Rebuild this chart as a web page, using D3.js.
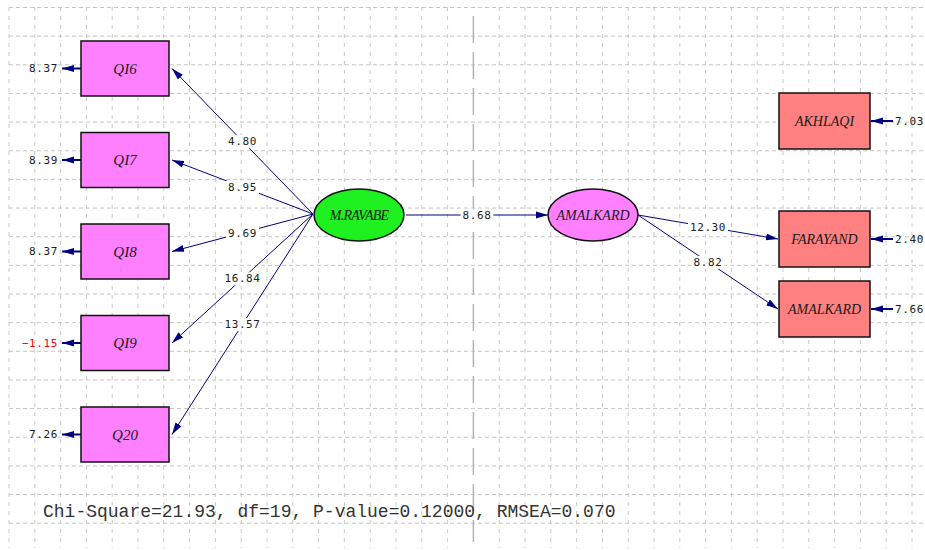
<!DOCTYPE html>
<html>
<head>
<meta charset="utf-8">
<script src="https://cdn.jsdelivr.net/npm/d3@7"></script>
<style>
  body { margin: 0; background: #fff; }
  svg { display: block; }
</style>
</head>
<body>
<div class="svg-container"></div>
<script>
// ---- data ----
var leftIndicators = ["QI6", "QI7", "QI8", "QI9", "Q20"];
var leftLoadings = [4.80, 8.95, 9.69, 16.84, 13.57];
var leftErrors = [8.37, 8.39, 8.37, -1.15, 7.26];

var rightIndicators = ["AKHLAQI", "FARAYAND", "AMALKARD"];
var rightLoadings = [null, 12.30, 8.82];
var rightErrors = [7.03, 2.40, 7.66];

var latentNames = ["M.RAVABE", "AMALKARD"];
var structuralPaths = [8.68];

var fitNames = ["Chi-Square", "df", "P-value", "RMSEA"];
var fitValues = ["21.93", "19", "0.12000", "0.070"];

// ---- layout ----
var width = 925, height = 550;
var fmt = d3.format(".2f");
var pathColor = "#00007f";

var svg = d3.select(".svg-container").append("svg")
  .attr("width", width)
  .attr("height", height);

var defs = svg.append("defs");
defs.append("marker")
  .attr("id", "arrow")
  .attr("markerUnits", "userSpaceOnUse")
  .attr("viewBox", "0 -4 12 8")
  .attr("refX", 12).attr("refY", 0)
  .attr("markerWidth", 12).attr("markerHeight", 8)
  .attr("orient", "auto")
  .append("path")
  .attr("d", "M0,-3.5L12,0L0,3.5Z")
  .attr("fill", pathColor);

// background grid
var gx = d3.scaleLinear().domain([0, 1]).range([9, 34.8]);
var gy = d3.scaleLinear().domain([0, 1]).range([7.5, 36.15]);
var grid = svg.append("g").attr("class", "grid");

grid.selectAll("line.h")
  .data(d3.range(0, 19))
  .enter().append("line")
  .attr("class", "h")
  .attr("x1", 9).attr("x2", width)
  .attr("y1", function(d) { return gy(d); })
  .attr("y2", function(d) { return gy(d); })
  .attr("stroke", "#c4c4c4")
  .attr("stroke-dasharray", "4,3");

grid.selectAll("line.v")
  .data(d3.range(0, 36).filter(function(d) { return d !== 18; }))
  .enter().append("line")
  .attr("class", "v")
  .attr("x1", function(d) { return gx(d); })
  .attr("x2", function(d) { return gx(d); })
  .attr("y1", 7).attr("y2", height - 2)
  .attr("stroke", "#c8c8c8")
  .attr("stroke-dasharray", "4,5");

// the darker centre line
grid.append("line")
  .attr("x1", gx(18)).attr("x2", gx(18))
  .attr("y1", 16).attr("y2", height - 8)
  .attr("stroke", "#b4b4b4")
  .attr("stroke-width", 1.5)
  .attr("stroke-dasharray", "27,9");

// positions of nodes
var leftY = d3.scalePoint().domain(leftIndicators).range([68.5, 434.5]);
var rightY = d3.scaleOrdinal().domain(rightIndicators).range([121, 239, 309]);
var latentX = d3.scaleOrdinal().domain(latentNames).range([359, 593]);
var latentCy = 215, latentRx = 45, latentRy = 26;

var leftBox = { x: 81, w: 88, h: 55 };
var rightBox = { x: 779, w: 91, h: 56 };

var links = svg.append("g").attr("class", "links");
var labels = svg.append("g").attr("class", "labels");

function pathLabel(x, y, text) {
  var g = labels.append("g");
  var t = g.append("text")
    .attr("x", x).attr("y", y)
    .attr("dy", "0.35em")
    .attr("text-anchor", "middle")
    .attr("font-family", "'DejaVu Sans Mono', monospace")
    .attr("font-size", 11)
    .attr("letter-spacing", 0.6)
    .attr("fill", "#222")
    .text(text);
  var bb = t.node().getBBox();
  g.insert("rect", "text")
    .attr("x", bb.x - 2).attr("y", bb.y)
    .attr("width", bb.width + 4).attr("height", bb.height)
    .attr("fill", "#fff");
}

// loadings from M.RAVABE to QI boxes
var src = { x: latentX("M.RAVABE") - latentRx - 1, y: latentCy - 1 };
leftIndicators.forEach(function(name, i) {
  var tx = leftBox.x + leftBox.w + 3, ty = leftY(name);
  links.append("line")
    .attr("x1", src.x).attr("y1", src.y)
    .attr("x2", tx).attr("y2", ty)
    .attr("stroke", pathColor)
    .attr("stroke-width", 1)
    .attr("marker-end", "url(#arrow)");
  pathLabel((src.x + tx) / 2, (src.y + ty) / 2, fmt(leftLoadings[i]));
});

// structural path
var s1 = latentX("M.RAVABE") + latentRx + 2, s2 = latentX("AMALKARD") - 44 - 1;
links.append("line")
  .attr("x1", s1).attr("y1", latentCy)
  .attr("x2", s2).attr("y2", latentCy)
  .attr("stroke", pathColor)
  .attr("stroke-width", 1.2)
  .attr("marker-end", "url(#arrow)");
pathLabel((s1 + s2) / 2, latentCy, fmt(structuralPaths[0]));

// loadings from AMALKARD to right boxes
var rsrc = { x: latentX("AMALKARD") + 45, y: latentCy };
rightIndicators.forEach(function(name, i) {
  if (rightLoadings[i] === null) return;
  var tx = rightBox.x - 1, ty = rightY(name);
  links.append("line")
    .attr("x1", rsrc.x).attr("y1", rsrc.y)
    .attr("x2", tx).attr("y2", ty)
    .attr("stroke", pathColor)
    .attr("stroke-width", 1)
    .attr("marker-end", "url(#arrow)");
  pathLabel((rsrc.x + tx) / 2, (rsrc.y + ty) / 2, fmt(rightLoadings[i]));
});

// error arrows and values
var errs = svg.append("g").attr("class", "errors");
leftIndicators.forEach(function(name, i) {
  var y = leftY(name);
  errs.append("line")
    .attr("x1", leftBox.x).attr("y1", y)
    .attr("x2", 62).attr("y2", y)
    .attr("stroke", pathColor)
    .attr("stroke-width", 2)
    .attr("marker-end", "url(#arrow)");
  errs.append("text")
    .attr("x", 58).attr("y", y)
    .attr("dy", "0.35em")
    .attr("text-anchor", "end")
    .attr("font-family", "'DejaVu Sans Mono', monospace")
    .attr("font-size", 11)
    .attr("letter-spacing", 0.6)
    .attr("fill", leftErrors[i] < 0 ? "#ff0000" : "#222")
    .text(fmt(leftErrors[i]));
});
rightIndicators.forEach(function(name, i) {
  var y = rightY(name);
  errs.append("line")
    .attr("x1", 893).attr("y1", y)
    .attr("x2", rightBox.x + rightBox.w + 1).attr("y2", y)
    .attr("stroke", pathColor)
    .attr("stroke-width", 2)
    .attr("marker-end", "url(#arrow)");
  errs.append("text")
    .attr("x", 895).attr("y", y)
    .attr("dy", "0.35em")
    .attr("font-family", "'DejaVu Sans Mono', monospace")
    .attr("font-size", 11)
    .attr("letter-spacing", 0.6)
    .attr("fill", rightErrors[i] < 0 ? "#ff0000" : "#222")
    .text(fmt(rightErrors[i]));
});

// boxes
var nodeFont = "'Liberation Serif', 'Times New Roman', serif";
var lb = svg.append("g").selectAll("g")
  .data(leftIndicators)
  .enter().append("g");
lb.append("rect")
  .attr("x", leftBox.x)
  .attr("y", function(d) { return leftY(d) - leftBox.h / 2; })
  .attr("width", leftBox.w).attr("height", leftBox.h)
  .attr("fill", "#ff80ff")
  .attr("stroke", "#111").attr("stroke-width", 1.5);
lb.append("text")
  .attr("x", leftBox.x + leftBox.w / 2)
  .attr("y", function(d) { return leftY(d); })
  .attr("dy", "0.35em")
  .attr("text-anchor", "middle")
  .attr("font-family", nodeFont)
  .attr("font-style", "italic")
  .attr("font-size", 15)
  .attr("fill", "#1a1a1a")
  .text(function(d) { return d; });

var rb = svg.append("g").selectAll("g")
  .data(rightIndicators)
  .enter().append("g");
rb.append("rect")
  .attr("x", rightBox.x)
  .attr("y", function(d) { return rightY(d) - rightBox.h / 2; })
  .attr("width", rightBox.w).attr("height", rightBox.h)
  .attr("fill", "#ff8080")
  .attr("stroke", "#111").attr("stroke-width", 1.5);
rb.append("text")
  .attr("x", rightBox.x + rightBox.w / 2)
  .attr("y", function(d) { return rightY(d); })
  .attr("dy", "0.35em")
  .attr("text-anchor", "middle")
  .attr("font-family", nodeFont)
  .attr("font-style", "italic")
  .attr("font-size", 14)
  .attr("fill", "#1a1a1a")
  .text(function(d) { return d; });

// latent ellipses
var latentFill = d3.scaleOrdinal().domain(latentNames).range(["#1ff01f", "#ff80ff"]);
var lat = svg.append("g").selectAll("g")
  .data(latentNames)
  .enter().append("g");
lat.append("ellipse")
  .attr("cx", function(d) { return latentX(d); })
  .attr("cy", latentCy)
  .attr("rx", latentRx).attr("ry", latentRy)
  .attr("fill", function(d) { return latentFill(d); })
  .attr("stroke", "#111").attr("stroke-width", 1.5);
lat.append("text")
  .attr("x", function(d) { return latentX(d); })
  .attr("y", latentCy)
  .attr("dy", "0.35em")
  .attr("text-anchor", "middle")
  .attr("font-family", nodeFont)
  .attr("font-style", "italic")
  .attr("font-size", 14)
  .attr("letter-spacing", function(d) { return d === "M.RAVABE" ? -0.8 : 0; })
  .attr("fill", "#1a1a1a")
  .text(function(d) { return d; });

// fit statistics
svg.append("text")
  .attr("x", 43).attr("y", 517)
  .attr("font-family", "'Liberation Mono', 'Courier New', monospace")
  .attr("font-size", 18)
  .attr("fill", "#333")
  .text(fitNames.map(function(n, i) { return n + "=" + fitValues[i]; }).join(", "));
</script>
</body>
</html>
